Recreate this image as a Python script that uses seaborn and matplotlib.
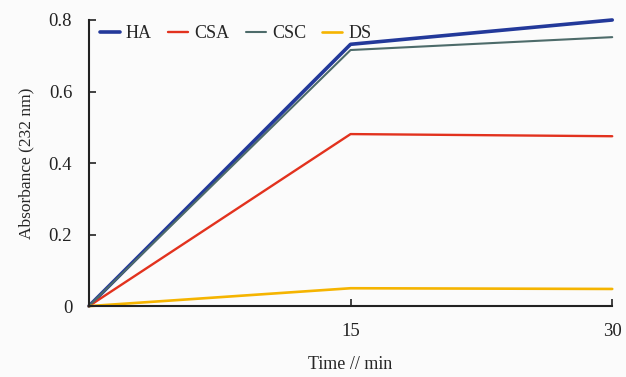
import seaborn as sns
import matplotlib.pyplot as plt
import pandas as pd

time_min = [0, 15, 30]
ha = [0, 0.732, 0.800]
csa = [0, 0.481, 0.475]
csc = [0, 0.716, 0.752]
ds = [0, 0.050, 0.048]
labels = ['HA', 'CSA', 'CSC', 'DS']

sns.set_style('ticks')
plt.rcParams['font.family'] = ['Liberation Serif', 'DejaVu Serif']

df = pd.DataFrame({'time': time_min * 4,
                   'abs': ha + csa + csc + ds,
                   'sample': [l for l in labels for _ in time_min]})

palette = {'HA': '#23399a', 'CSA': '#e2321e', 'CSC': '#4d6b6a', 'DS': '#f5b400'}
widths = {'HA': 2.6, 'CSA': 1.7, 'CSC': 1.5, 'DS': 1.9}

fig = plt.figure(figsize=(6.26, 3.77), dpi=100, facecolor='#fbfbfb')
ax = fig.add_axes([0.142, 0.188, 0.836, 0.759])
ax.set_facecolor('#fbfbfb')

for lab in labels:
    sns.lineplot(data=df[df['sample'] == lab], x='time', y='abs', color=palette[lab],
                 linewidth=widths[lab], label=lab, ax=ax, clip_on=False)

ax.set_xlim(0, 30)
ax.set_ylim(0, 0.8)
ax.set_xticks([15, 30])
ax.set_yticks([0, 0.2, 0.4, 0.6, 0.8])
ax.set_yticklabels(['0', '0.2', '0.4', '0.6', '0.8'])
ax.tick_params(direction='in', length=5, width=1.2, labelsize=13.5, colors='#222222')
ax.tick_params(axis='x', pad=12)
ax.tick_params(axis='y', pad=12)
for s in ['top', 'right']:
    ax.spines[s].set_visible(False)
for s in ['left', 'bottom']:
    ax.spines[s].set_linewidth(1.5)
    ax.spines[s].set_color('#222222')

ax.set_xlabel('Time // min', fontsize=13, labelpad=12)
ax.set_ylabel('Absorbance (232 nm)', fontsize=12.5, labelpad=10)

ax.legend(loc='upper left', ncol=4, frameon=False, fontsize=13, handlelength=1.1,
          handletextpad=0.35, columnspacing=0.9, bbox_to_anchor=(0.0, 1.02),
          borderaxespad=0.2)

fig.savefig('out.png', dpi=100, facecolor=fig.get_facecolor())
